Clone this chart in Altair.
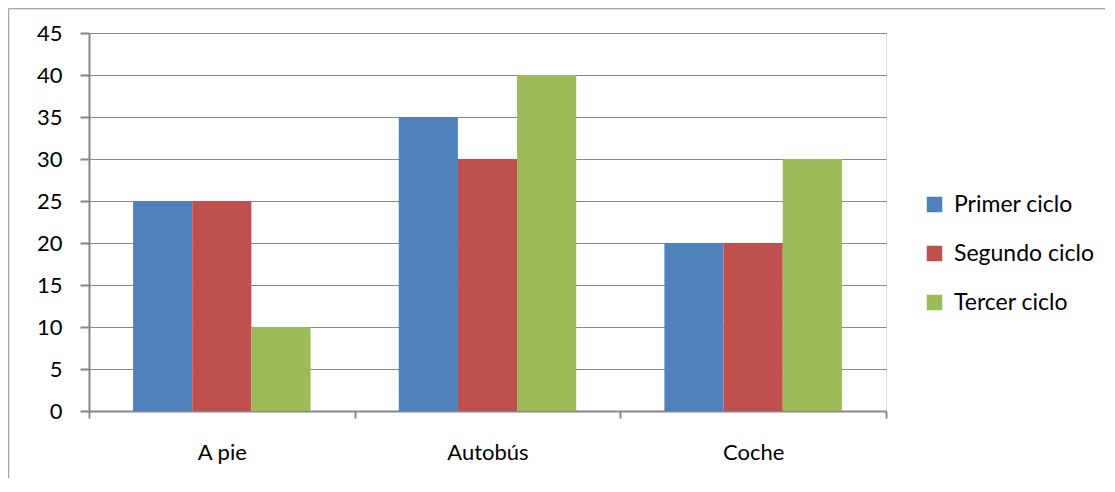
import altair as alt
import pandas as pd

categories = ["A pie", "Autobús", "Coche"]
series = ["Primer ciclo", "Segundo ciclo", "Tercer ciclo"]
primer = [25, 35, 20]
segundo = [25, 30, 20]
tercer = [10, 40, 30]
colors = ["#4F81BD", "#C0504D", "#9BBB59"]
y_ticks = [0, 5, 10, 15, 20, 25, 30, 35, 40, 45]

rows = []
for s, vals in zip(series, [primer, segundo, tercer]):
    for c, v in zip(categories, vals):
        rows.append({"Medio": c, "Ciclo": s, "Valor": v})
df = pd.DataFrame(rows)

W, H = 797, 378
PAD_R, PAD_B = 219, 67
FONT = "Lato"
GRAY = "#868686"

bars = alt.Chart(df).mark_bar().encode(
    x=alt.X("Medio:N", sort=categories, title=None,
            scale=alt.Scale(paddingInner=0, paddingOuter=0),
            axis=alt.Axis(labelAngle=0, tickBand="extent", domainColor=GRAY, domainWidth=2,
                          tickColor=GRAY, tickWidth=2, tickSize=7, labelPadding=24,
                          labelFont=FONT, labelFontSize=22, labelColor="#000000", grid=False)),
    xOffset=alt.XOffset("Ciclo:N", sort=series,
                        scale=alt.Scale(paddingInner=0, paddingOuter=0.745)),
    y=alt.Y("Valor:Q", title=None,
            scale=alt.Scale(domain=[0, 45], nice=False),
            axis=alt.Axis(values=y_ticks, domainColor=GRAY, domainWidth=2,
                          tickColor=GRAY, tickWidth=2, tickSize=9, labelPadding=18,
                          labelFont=FONT, labelFontSize=22, labelColor="#000000",
                          gridColor=GRAY, gridWidth=1)),
    color=alt.Color("Ciclo:N", sort=series, title=None,
                    scale=alt.Scale(domain=series, range=colors),
                    legend=alt.Legend(orient="none", legendX=834, legendY=160,
                                      symbolType="square", symbolSize=240,
                                      symbolStrokeWidth=0, symbolOpacity=1,
                                      labelFont=FONT, labelFontSize=23,
                                      labelColor="#000000", labelOffset=8,
                                      rowPadding=25, padding=0)),
)

frame_left = alt.Chart(pd.DataFrame({"k": [0]})).mark_rule(color="#A6A6A6", strokeWidth=1.5).encode(
    x=alt.value(-80.5), y=alt.value(-24.5), y2=alt.value(H + PAD_B))
frame_top = alt.Chart(pd.DataFrame({"k": [0]})).mark_rule(color="#A6A6A6", strokeWidth=1.5).encode(
    x=alt.value(-80.5), x2=alt.value(W + PAD_R), y=alt.value(-24.5))

chart = alt.layer(bars, frame_left, frame_top).properties(
    width=W, height=H,
    autosize=alt.AutoSizeParams(type="none"),
    padding={"left": 81, "top": 25, "right": PAD_R, "bottom": PAD_B},
).configure_view(stroke=None).configure(background="white")

chart.save("out.html", embed_options={"renderer": "svg", "actions": False})
